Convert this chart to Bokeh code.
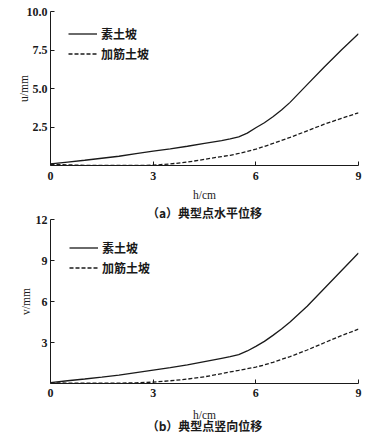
from bokeh.plotting import figure
from bokeh.layouts import column
from bokeh.models import FixedTicker, Legend, LegendItem, NumeralTickFormatter, Title
from bokeh.embed import file_html
from bokeh.resources import INLINE

# ---- data ----
h = [0, 0.5, 1, 1.5, 2, 2.5, 3, 3.5, 4, 4.5, 5, 5.25, 5.5, 5.75, 6, 6.25, 6.5, 6.75, 7, 7.5, 8, 8.5, 9]

u_plain = [0.10, 0.22, 0.34, 0.47, 0.60, 0.77, 0.93, 1.08, 1.25, 1.44, 1.62, 1.73, 1.86, 2.10, 2.45,
           2.78, 3.16, 3.60, 4.10, 5.25, 6.40, 7.50, 8.55]
u_reinf = [0.08, 0.04, 0.01, 0.00, 0.00, 0.00, 0.02, 0.10, 0.22, 0.40, 0.58, 0.66, 0.78, 0.92, 1.06,
           1.24, 1.43, 1.63, 1.82, 2.25, 2.68, 3.06, 3.42]

v_plain = [0.07, 0.20, 0.33, 0.47, 0.62, 0.80, 0.98, 1.16, 1.36, 1.60, 1.84, 1.96, 2.12, 2.38, 2.72,
           3.08, 3.52, 3.99, 4.50, 5.65, 6.95, 8.25, 9.55]
v_reinf = [0.05, 0.03, 0.02, 0.02, 0.03, 0.05, 0.10, 0.20, 0.32, 0.49, 0.72, 0.85, 0.96, 1.08, 1.20,
           1.36, 1.55, 1.76, 1.97, 2.45, 2.98, 3.50, 3.98]

x_ticks = [0, 3, 6, 9]
u_ticks = [2.5, 5.0, 7.5, 10.0]
v_ticks = [3, 6, 9, 12]

series_names = ["素土坡", "加筋土坡"]
captions = ["（a）典型点水平位移", "（b）典型点竖向位移"]
x_label = "h/cm"
y_labels = ["u/mm", "v/mm"]

SERIF = "Liberation Serif"
CJK = "Noto Sans CJK SC"
INK = "#1a1a1a"


def make_legend(label, renderer, loc):
    leg = Legend(items=[LegendItem(label=label, renderers=[renderer])], location=loc)
    leg.border_line_color = None
    leg.background_fill_alpha = 0
    leg.padding = 0
    leg.margin = 0
    leg.spacing = 0
    leg.glyph_width = 29
    leg.glyph_height = 21
    leg.label_height = 21
    leg.label_standoff = 4
    leg.label_text_font = CJK
    leg.label_text_font_size = "12px"
    leg.label_text_font_style = "bold"
    leg.label_text_color = INK
    return leg


def caption_title(text, offset, standoff):
    return Title(text=text, align="center", offset=offset, standoff=standoff,
                 text_font=CJK, text_font_size="12px", text_font_style="bold",
                 text_color=INK)


def make_panel(y_plain, y_reinf, y_ticks, y_max, y_fmt, ylab,
               width, height, mb_left, mb_right, mb_top, mb_bottom,
               leg_locs, ylab_standoff, tick_standoff, xlab_standoff):
    p = figure(width=width, height=height, output_backend="svg", toolbar_location=None,
               x_range=(0, 9), y_range=(0, y_max),
               min_border_left=mb_left, min_border_right=mb_right,
               min_border_top=mb_top, min_border_bottom=mb_bottom)
    p.outline_line_color = None
    p.grid.visible = False
    p.background_fill_color = "white"
    p.border_fill_color = "white"

    for ax in (p.xaxis[0], p.yaxis[0]):
        ax.axis_line_color = INK
        ax.axis_line_width = 1
        ax.major_tick_line_color = INK
        ax.major_tick_in = 4
        ax.major_tick_out = 0
        ax.minor_tick_line_color = None
        ax.major_label_text_font = SERIF
        ax.major_label_text_font_size = "12px"
        ax.major_label_text_font_style = "bold"
        ax.major_label_text_color = INK
        ax.axis_label_text_font = SERIF
        ax.axis_label_text_font_size = "11.5px"
        ax.axis_label_text_font_style = "normal"
        ax.axis_label_text_color = INK

    p.xaxis[0].ticker = FixedTicker(ticks=x_ticks)
    p.xaxis[0].axis_label = x_label
    p.xaxis[0].major_label_standoff = tick_standoff
    p.xaxis[0].axis_label_standoff = xlab_standoff

    p.yaxis[0].ticker = FixedTicker(ticks=y_ticks)
    p.yaxis[0].formatter = NumeralTickFormatter(format=y_fmt)
    p.yaxis[0].axis_label = ylab
    p.yaxis[0].major_label_standoff = 3
    p.yaxis[0].axis_label_standoff = ylab_standoff

    r1 = p.line(h, y_plain, line_color=INK, line_width=1.3)
    r2 = p.line(h, y_reinf, line_color=INK, line_width=1.3, line_dash="4 2")

    p.add_layout(make_legend(series_names[0], r1, leg_locs[0]))
    p.add_layout(make_legend(series_names[1], r2, leg_locs[1]))
    return p


# panel (a): frame 50..360 x 11..167
p1 = make_panel(u_plain, u_reinf, u_ticks, 10.0, "0.0", y_labels[0],
                386, 203, 50, 26, 11, 36, [(18, 121), (18, 101)], -6, 6, 6)
# panel (b): frame 47..358 x ~222..383 ; caption (a) sits in the gap above it
p2 = make_panel(v_plain, v_reinf, v_ticks, 12, "0", y_labels[1],
                386, 236, 47, 28, 14, 56, [(19, 125), (19, 105)], 1, 5, 9)
p2.add_layout(caption_title(captions[0], -2, -3), "above")
p2.add_layout(caption_title(captions[1], -1, -18), "below")

layout = column(p1, p2, spacing=0)
open("out.html", "w").write(file_html(layout, INLINE))
